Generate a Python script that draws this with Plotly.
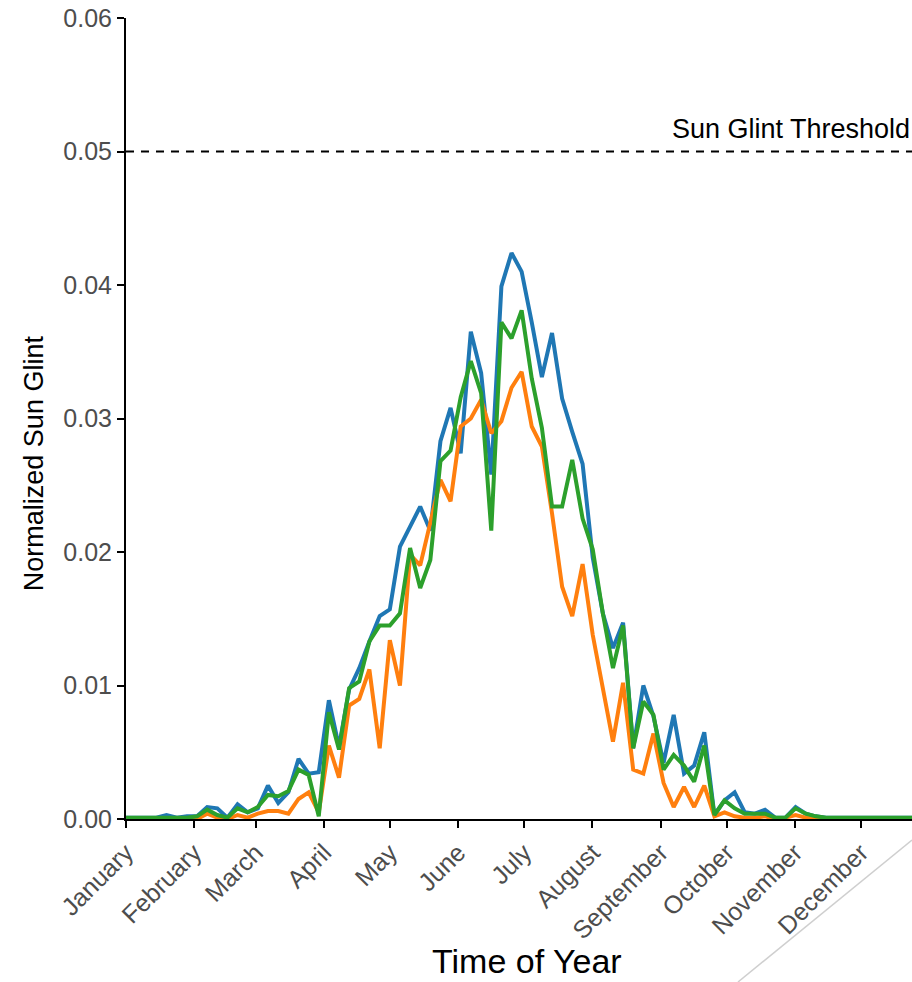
import plotly.graph_objects as go

# Sample days (day of year) of each glint estimate
sample_day = [
    0.0, 4.6, 9.2, 13.8, 18.4, 23.1, 27.7, 32.3, 36.9, 41.5,
    46.1, 50.7, 55.3, 59.9, 64.5, 69.2, 73.8, 78.4, 83.0, 87.6,
    92.2, 96.8, 101.4, 106.0, 110.6, 115.3, 119.9, 124.5, 129.1, 133.7,
    138.3, 142.9, 147.5, 152.1, 156.7, 161.4, 166.0, 170.6, 175.2, 179.8,
    184.4, 189.0, 193.6, 198.2, 202.8, 207.5, 212.1, 216.7, 221.3, 225.9,
    230.5, 235.1, 239.7, 244.3, 248.9, 253.6, 258.2, 262.8, 267.4, 272.0,
    276.6, 281.2, 285.8, 290.4, 295.0, 299.7, 304.3, 308.9, 313.5, 318.1,
    322.7, 327.3, 331.9, 336.5, 341.1, 345.8, 350.4, 355.0, 359.6,
]

site_a = [
    0.0001, 0.0001, 0.0001, 0.0001, 0.0003, 0.0001, 0.0002, 0.0002, 0.0009, 0.0008,
    0.0001, 0.0011, 0.0005, 0.0008, 0.0025, 0.0012, 0.0020, 0.0045, 0.0034, 0.0035,
    0.0089, 0.0054, 0.0097, 0.0113, 0.0133, 0.0152, 0.0157, 0.0204, 0.0219, 0.0234,
    0.0216, 0.0283, 0.0308, 0.0274, 0.0365, 0.0334, 0.0258, 0.0399, 0.0424, 0.0410,
    0.0372, 0.0331, 0.0364, 0.0315, 0.0290, 0.0266, 0.0196, 0.0154, 0.0128, 0.0147,
    0.0053, 0.0100, 0.0077, 0.0042, 0.0078, 0.0034, 0.0040, 0.0065, 0.0003, 0.0014,
    0.0020, 0.0005, 0.0004, 0.0007, 0.0001, 0.0001, 0.0009, 0.0004, 0.0002, 0.0001,
    0.0001, 0.0001, 0.0001, 0.0001, 0.0001, 0.0001, 0.0001, 0.0001, 0.0001,
]

site_b = [
    0.0000, 0.0000, 0.0000, 0.0000, 0.0000, 0.0000, 0.0000, 0.0000, 0.0004, 0.0001,
    0.0000, 0.0003, 0.0001, 0.0004, 0.0006, 0.0006, 0.0004, 0.0015, 0.0020, 0.0005,
    0.0055, 0.0031, 0.0085, 0.0090, 0.0112, 0.0053, 0.0134, 0.0100, 0.0198, 0.0190,
    0.0222, 0.0254, 0.0238, 0.0294, 0.0300, 0.0314, 0.0289, 0.0298, 0.0323, 0.0335,
    0.0294, 0.0279, 0.0229, 0.0174, 0.0152, 0.0191, 0.0138, 0.0098, 0.0058, 0.0102,
    0.0037, 0.0034, 0.0064, 0.0027, 0.0009, 0.0024, 0.0009, 0.0025, 0.0002, 0.0005,
    0.0002, 0.0001, 0.0001, 0.0002, 0.0000, 0.0001, 0.0003, 0.0001, 0.0000, 0.0000,
    0.0000, 0.0000, 0.0000, 0.0000, 0.0000, 0.0000, 0.0000, 0.0000, 0.0000,
]

site_c = [
    0.0001, 0.0001, 0.0001, 0.0001, 0.0001, 0.0001, 0.0001, 0.0002, 0.0007, 0.0003,
    0.0001, 0.0008, 0.0005, 0.0009, 0.0018, 0.0017, 0.0021, 0.0037, 0.0033, 0.0002,
    0.0080, 0.0052, 0.0098, 0.0103, 0.0133, 0.0145, 0.0145, 0.0154, 0.0203, 0.0173,
    0.0194, 0.0268, 0.0276, 0.0316, 0.0343, 0.0319, 0.0216, 0.0372, 0.0360, 0.0381,
    0.0330, 0.0293, 0.0234, 0.0234, 0.0269, 0.0225, 0.0202, 0.0154, 0.0113, 0.0145,
    0.0053, 0.0088, 0.0078, 0.0037, 0.0048, 0.0040, 0.0028, 0.0055, 0.0003, 0.0014,
    0.0008, 0.0004, 0.0004, 0.0004, 0.0001, 0.0001, 0.0008, 0.0004, 0.0002, 0.0001,
    0.0001, 0.0001, 0.0001, 0.0001, 0.0001, 0.0001, 0.0001, 0.0001, 0.0001,
]

month_start_day = [0, 31, 59, 90, 120, 151, 181, 212, 243, 273, 304, 334]
month_names = ["January", "February", "March", "April", "May", "June",
               "July", "August", "September", "October", "November", "December"]
y_ticks = [0.00, 0.01, 0.02, 0.03, 0.04, 0.05, 0.06]

GLINT_THRESHOLD = 0.05
X_MAX = 357.2

FONT = "Liberation Sans, Arial, sans-serif"
TICK_GREY = "#4d4d4d"

series = [
    (site_a, "#1f77b4"),
    (site_b, "#ff7f0e"),
    (site_c, "#2ca02c"),
]

fig = go.Figure()
for values, colour in series:
    fig.add_trace(go.Scatter(
        x=sample_day, y=values, mode="lines",
        line=dict(color=colour, width=4),
        showlegend=False, hoverinfo="skip",
    ))

# dashed threshold line across the panel
fig.add_trace(go.Scatter(
    x=[0, X_MAX], y=[GLINT_THRESHOLD, GLINT_THRESHOLD], mode="lines",
    line=dict(color="black", width=2, dash="8px,7px"),
    showlegend=False, hoverinfo="skip",
))

fig.add_annotation(
    x=247.4, y=GLINT_THRESHOLD, xref="x", yref="y",
    text="Sun Glint Threshold", showarrow=False,
    xanchor="left", yanchor="bottom", yshift=6,
    font=dict(family=FONT, size=27, color="black"),
)

# axis titles
fig.add_annotation(
    x=0.510, y=(819 - 982) / 801, xref="paper", yref="paper",
    text="Time of Year", showarrow=False,
    xanchor="center", yanchor="bottom",
    font=dict(family=FONT, size=34, color="black"),
)
fig.add_annotation(
    x=-0.116, y=0.444, xref="paper", yref="paper",
    text="Normalized Sun Glint", showarrow=False, textangle=-90,
    xanchor="center", yanchor="middle",
    font=dict(family=FONT, size=27, color="black"),
)

# thin grey diagonal stroke in the lower right corner
fig.add_shape(
    type="line", xref="paper", yref="paper",
    x0=(738 - 126) / 786, y0=(819 - 982) / 801,
    x1=1.0, y1=(819 - 840) / 801,
    line=dict(color="#cfcfcf", width=1.5),
)

fig.update_xaxes(
    range=[0, X_MAX],
    tickmode="array", tickvals=month_start_day, ticktext=month_names,
    tickangle=-45,
    ticks="outside", ticklen=7, tickwidth=2, tickcolor="black",
    showline=True, linecolor="black", linewidth=2,
    showgrid=False, zeroline=False,
    tickfont=dict(family=FONT, size=25, color=TICK_GREY),
)
fig.update_yaxes(
    range=[0, 0.06],
    tickmode="array", tickvals=y_ticks, tickformat=".2f",
    ticks="outside", ticklen=7, tickwidth=2, tickcolor="black",
    showline=True, linecolor="black", linewidth=2,
    showgrid=False, zeroline=False,
    tickfont=dict(family=FONT, size=25, color=TICK_GREY),
)

fig.update_layout(
    width=912, height=982,
    margin=dict(l=126, r=0, t=18, b=163),
    plot_bgcolor="white", paper_bgcolor="white",
    showlegend=False,
)

fig.write_html("out.html")
